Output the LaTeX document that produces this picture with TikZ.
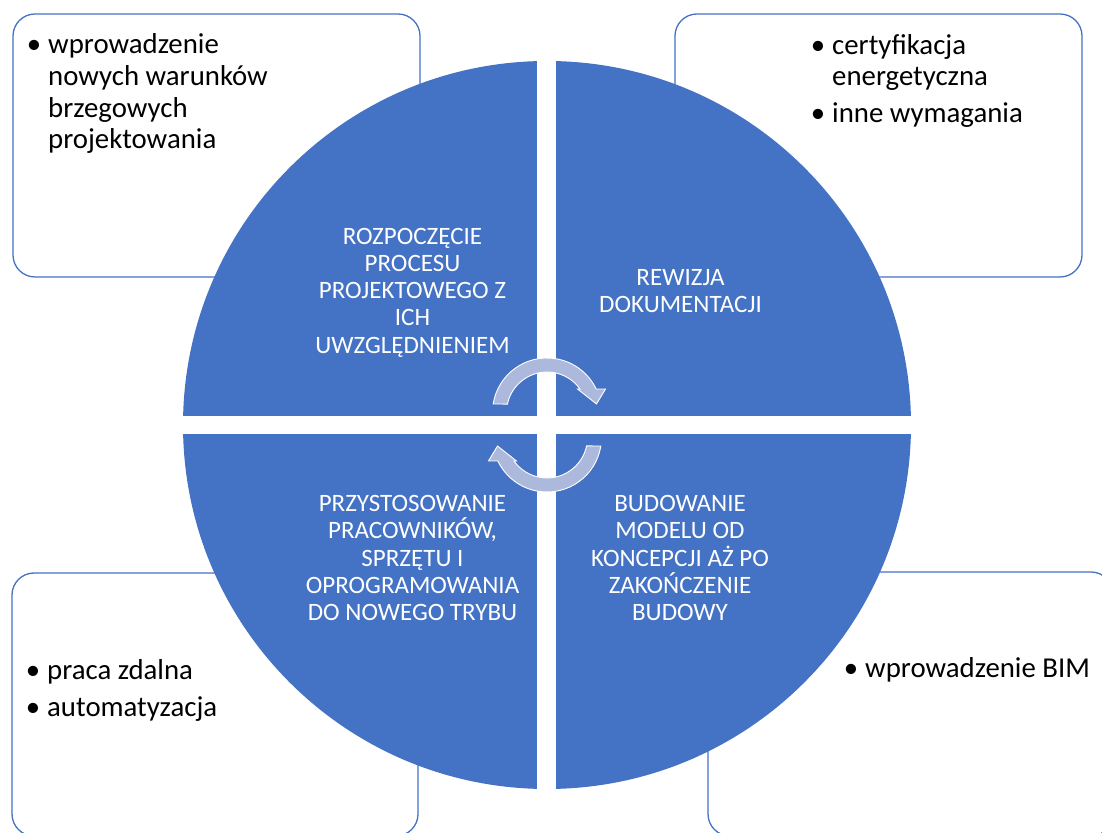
\documentclass[tikz,border=0pt]{standalone}
\usepackage{fontspec}
\setmainfont{Carlito}
\definecolor{accblue}{RGB}{68,114,196}
\definecolor{arrowfill}{RGB}{172,185,221}
\tikzset{
  sidebox/.style={draw=accblue, line width=1.3pt, fill=white, rounded corners=22pt},
  quadtext/.style={text=white, align=center, anchor=base, inner sep=0pt,
    font={\fontsize{25}{27.3}\selectfont}},
  itemtext/.style={text=black, align=left, anchor=base west, inner sep=0pt,
    font={\fontsize{28.8}{31.7}\selectfont}},
  cyclearrow/.pic={
    \fill[arrowfill, draw=white, line width=0.9pt, line join=miter]
      (0,12.5) ++(171:54.5) arc[start angle=171, end angle=25.5, radius=54.5]
      -- (58.5,36) -- (49.5,21) -- (30.5,36) -- (33,36)
      arc[start angle=35.5, end angle=168, radius=40.5] -- cycle;
  }
}
\newcommand\bul{\llap{\textbullet\hspace{7pt}}}
\begin{document}
\begin{tikzpicture}[x=1pt,y=1pt]
\useasboundingbox (0,0) rectangle (1102,832);
\clip (0,0) rectangle (1102,832);
% side boxes
\path[sidebox] (13,555) rectangle (420,818);
\path[sidebox] (675,555) rectangle (1082,818);
\path[sidebox] (12,-4) rectangle (418,259);
\path[sidebox] (708,-4) rectangle (1113,260);
% circle
\coordinate (C) at (547,407);
\fill[accblue] (C) circle[radius=364];
% white gaps
\fill[white] (537,30) rectangle (556,800);
\fill[white] (170,398) rectangle (925,416);
% cycle arrows
\pic at (C) {cyclearrow};
\pic[rotate=180] at (C) {cyclearrow};
% quadrant texts (anchor = baseline of last line)
\node[quadtext] (q1) at (412.5,478.7) {ROZPOCZĘCIE\\PROCESU\\PROJEKTOWEGO Z\\ICH\\UWZGLĘDNIENIEM};
\node[quadtext] (q2) at (680.5,519.5) {REWIZJA\\DOKUMENTACJI};
\node[quadtext] (q3) at (680,211.3) {BUDOWANIE\\MODELU OD\\KONCEPCJI AŻ PO\\ZAKOŃCZENIE\\BUDOWY};
\node[quadtext] (q4) at (412.5,211.3) {PRZYSTOSOWANIE\\PRACOWNIKÓW,\\SPRZĘTU I\\OPROGRAMOWANIA\\DO NOWEGO TRYBU};
% box texts (anchor = baseline of last line)
\node[itemtext] (t1) at (48,683) {\bul wprowadzenie\\nowych warunków\\brzegowych\\projektowania};
\node[itemtext] (t2a) at (832,746) {\bul certyfikacja\\energetyczna};
\node[itemtext] (t2b) at (832,709) {\bul inne wymagania};
\node[itemtext] (t4a) at (47,152) {\bul praca zdalna};
\node[itemtext] (t4b) at (47,115) {\bul automatyzacja};
\node[itemtext] (t3) at (865,154) {\bul wprowadzenie BIM};
\end{tikzpicture}
\end{document}
